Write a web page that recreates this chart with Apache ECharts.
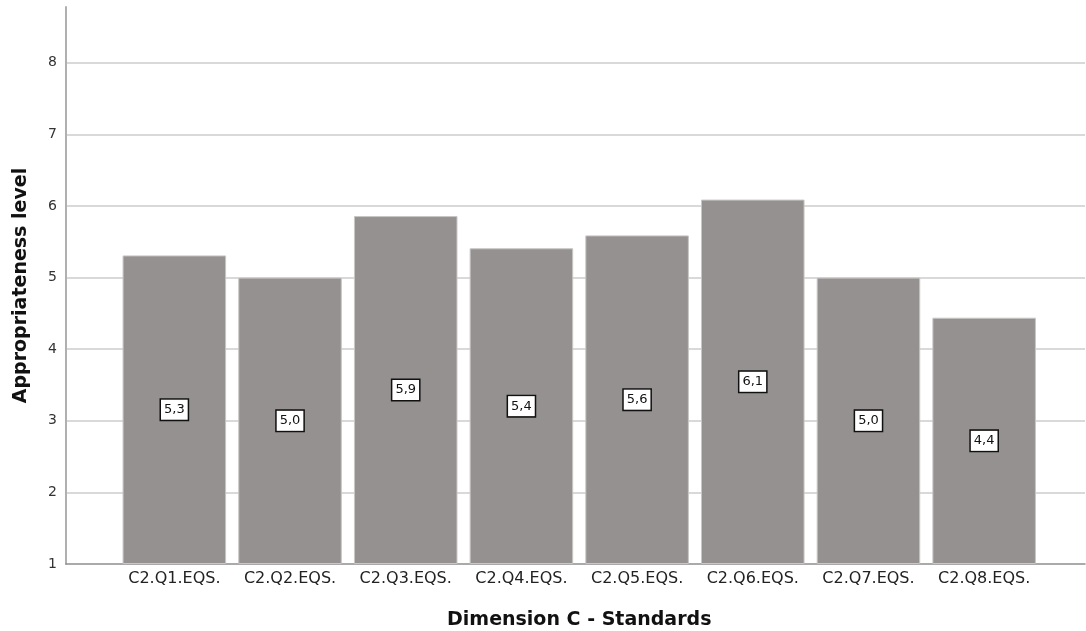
<!DOCTYPE html>
<html>
<head>
<meta charset="utf-8">
<script src="https://cdn.jsdelivr.net/npm/echarts@6/dist/echarts.min.js"></script>
<style>
html,body{margin:0;padding:0;background:#fff;}
#chart{width:1086px;height:631px;}
</style>
</head>
<body>
<div id="chart"></div>
<script>
// ---- data ----
const categories = ['C2.Q1.EQS.', 'C2.Q2.EQS.', 'C2.Q3.EQS.', 'C2.Q4.EQS.', 'C2.Q5.EQS.', 'C2.Q6.EQS.', 'C2.Q7.EQS.', 'C2.Q8.EQS.'];
const values = [5.31, 5.00, 5.86, 5.41, 5.59, 6.09, 5.00, 4.44];
const yTicks = [1, 2, 3, 4, 5, 6, 7, 8];
const axisMin = 1;
const axisMax = 8.78;

const chart = echarts.init(document.getElementById('chart'));
const fmt = v => v.toFixed(1).replace('.', ',');

chart.setOption({
  animation: false,
  grid: [
    { left: 66, right: 1, top: 7, bottom: 67, outerBoundsMode: 'none', containLabel: false },
    { left: 116.5, width: 925.5, top: 7, bottom: 67, outerBoundsMode: 'none', containLabel: false }
  ],
  xAxis: [
    {
      gridIndex: 0, type: 'value', min: 0, max: 1,
      axisLine: { show: true, lineStyle: { color: '#8f8f8f', width: 1.5 } },
      axisTick: { show: false }, axisLabel: { show: false }, splitLine: { show: false }
    },
    {
      gridIndex: 1, type: 'category', data: categories,
      axisLine: { show: false }, axisTick: { show: false },
      axisLabel: { interval: 0, hideOverlap: false, color: '#222', fontFamily: 'DejaVu Sans', fontSize: 16, margin: 7 },
      name: 'Dimension C - Standards', nameLocation: 'middle', nameGap: 47,
      nameTextStyle: { color: '#111', fontFamily: 'DejaVu Sans', fontWeight: 'bold', fontSize: 19 }
    }
  ],
  yAxis: [
    {
      gridIndex: 0, type: 'value', min: axisMin, max: axisMax, interval: 1,
      axisLine: { show: true, lineStyle: { color: '#b0b0b0', width: 2 } },
      axisTick: { show: false },
      axisLabel: {
        color: '#333', fontFamily: 'DejaVu Sans', fontSize: 14, margin: 9,
        showMaxLabel: false,
        formatter: v => (yTicks.indexOf(v) >= 0 ? String(v) : '')
      },
      splitLine: { show: true, showMaxLine: false, showMinLine: false, lineStyle: { color: '#cccccc', width: 1.5 } },
      name: 'Appropriateness level', nameLocation: 'middle', nameGap: 35, nameRotate: 90,
      nameTextStyle: { color: '#111', fontFamily: 'DejaVu Sans', fontWeight: 'bold', fontSize: 19 }
    },
    {
      gridIndex: 1, type: 'value', min: axisMin, max: axisMax, interval: 1, show: false,
      splitLine: { show: false }
    }
  ],
  series: [
    {
      type: 'bar', xAxisIndex: 1, yAxisIndex: 1, stack: 'b',
      data: values.map(() => axisMin),
      itemStyle: { color: 'transparent' },
      barCategoryGap: '10.5%', silent: true
    },
    {
      type: 'bar', xAxisIndex: 1, yAxisIndex: 1, stack: 'b',
      data: values.map(v => v - axisMin),
      barCategoryGap: '10.5%',
      itemStyle: { color: '#959190', borderColor: '#c9c6c5', borderWidth: 1 },
      label: {
        show: true, position: 'inside',
        formatter: p => fmt(values[p.dataIndex]),
        color: '#111', fontFamily: 'DejaVu Sans', fontSize: 13,
        backgroundColor: '#fff', borderColor: '#111', borderWidth: 1.5,
        padding: [4, 3, 3, 3]
      }
    }
  ]
});
</script>
</body>
</html>
